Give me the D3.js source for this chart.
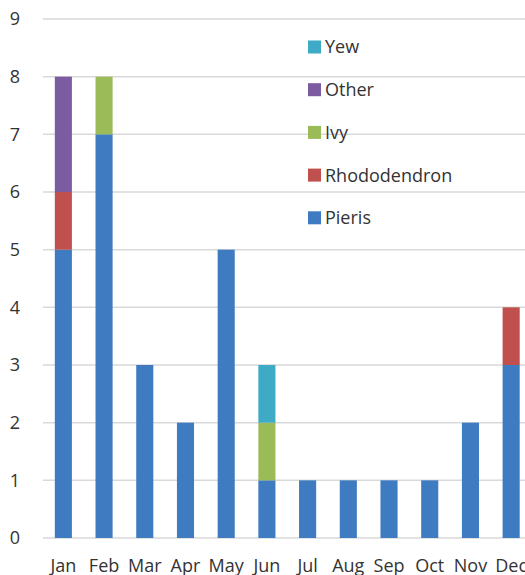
<!DOCTYPE html>
<html><head><meta charset="utf-8">
<script src="https://cdn.jsdelivr.net/npm/d3@7"></script>
<style>body{margin:0;background:#fff}svg{display:block}text{font-family:"Open Sans","Liberation Sans",sans-serif;fill:#333}</style>
</head><body><svg id="c" width="525" height="575"></svg>
<script>
const months = ["Jan","Feb","Mar","Apr","May","Jun","Jul","Aug","Sep","Oct","Nov","Dec"];
const names = ["Pieris","Rhododendron","Ivy","Other","Yew"];
const pieris = [5,7,3,2,5,1,1,1,1,1,2,3];
const rhododendron = [1,0,0,0,0,0,0,0,0,0,0,1];
const ivy = [0,1,0,0,0,1,0,0,0,0,0,0];
const other = [2,0,0,0,0,0,0,0,0,0,0,0];
const yew = [0,0,0,0,0,1,0,0,0,0,0,0];
const yTicks = [0,1,2,3,4,5,6,7,8,9];
const colors = ["#3E7BC0","#C0504D","#9BBB59","#7B5CA0","#3DAAC6"];

const rows = months.map((m,i)=>({month:m,Pieris:pieris[i],Rhododendron:rhododendron[i],Ivy:ivy[i],Other:other[i],Yew:yew[i]}));
const stack = d3.stack().keys(names)(rows);

const svg = d3.select("#c");
const x = d3.scaleBand().domain(months).range([43, 531.5]).paddingInner(0.58).paddingOuter(0.29);
const y = d3.scaleLinear().domain([0,9]).range([538, 19]);

svg.append("g").selectAll("line").data(yTicks).join("line")
  .attr("x1",43).attr("x2",525).attr("y1",d=>y(d)).attr("y2",d=>y(d))
  .attr("stroke","#D9D9D9").attr("stroke-width",1.5);

svg.append("g").selectAll("text").data(yTicks).join("text")
  .attr("x",20).attr("y",d=>y(d)).attr("dy","0.36em").attr("text-anchor","end")
  .attr("font-size",18).text(d=>d);

svg.append("g").selectAll("g").data(stack).join("g")
  .attr("fill",(d,i)=>colors[i])
  .selectAll("rect").data(d=>d).join("rect")
  .attr("x",d=>x(d.data.month)).attr("width",x.bandwidth())
  .attr("y",d=>y(d[1])).attr("height",d=>y(d[0])-y(d[1]));

svg.append("g").selectAll("text").data(months).join("text")
  .attr("x",d=>x(d)+x.bandwidth()/2).attr("y",572).attr("text-anchor","middle")
  .attr("font-size",18).text(d=>d);

const legOrder = [4,3,2,1,0];
const lg = svg.append("g").selectAll("g").data(legOrder).join("g")
  .attr("transform",(d,i)=>`translate(308,${47+i*42.7})`);
lg.append("rect").attr("x",0).attr("y",-6.5).attr("width",13).attr("height",13).attr("fill",d=>colors[d]);
lg.append("text").attr("x",17).attr("y",0).attr("dy","0.36em").attr("font-size",18).text(d=>names[d]);
</script></body></html>
